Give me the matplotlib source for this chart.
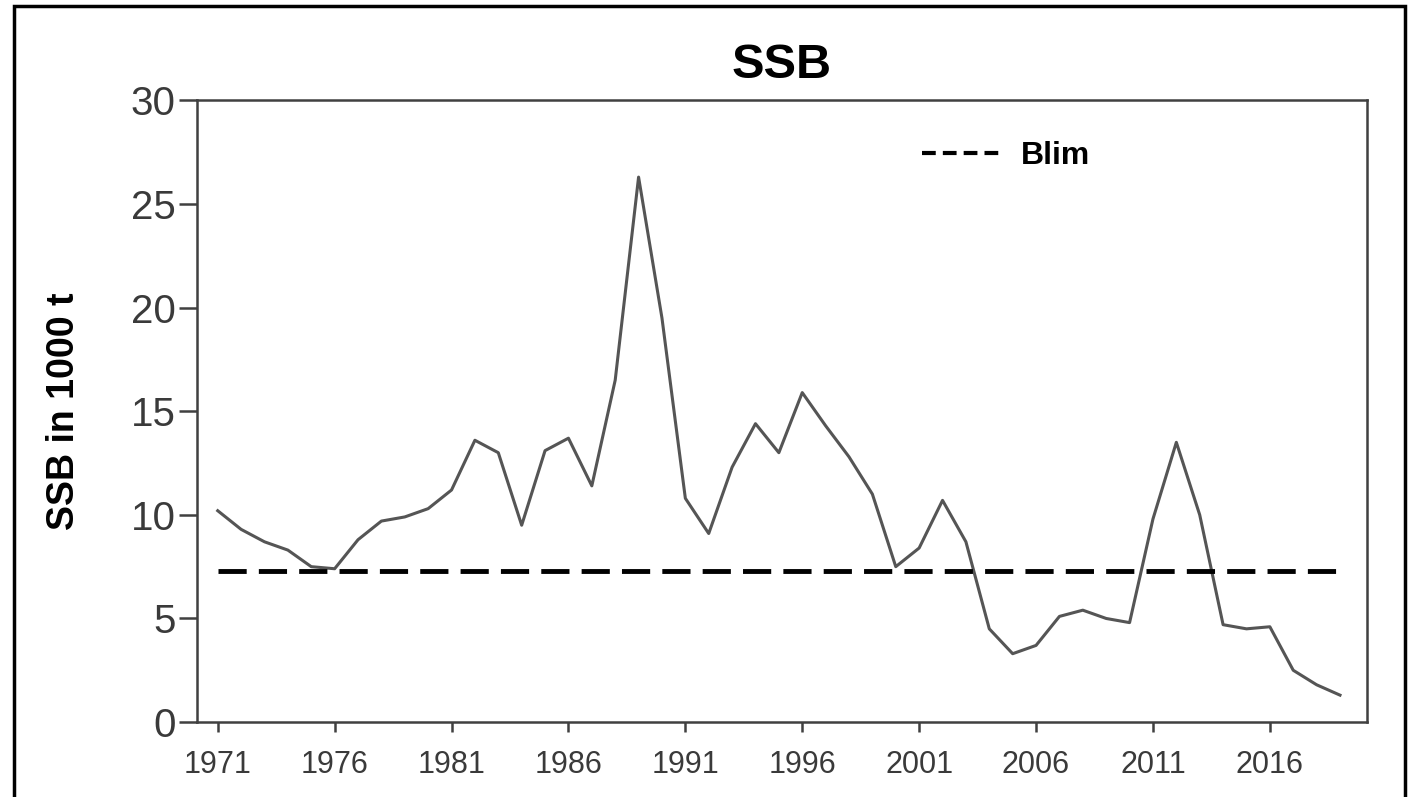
import matplotlib.pyplot as plt
from matplotlib.lines import Line2D
from matplotlib.patches import Rectangle

years = list(range(1971, 2020))
ssb = [10.2, 9.3, 8.7, 8.3, 7.5, 7.4, 8.8, 9.7, 9.9, 10.3,
       11.2, 13.6, 13.0, 9.5, 13.1, 13.7, 11.4, 16.5, 26.3, 19.5,
       10.8, 9.1, 12.3, 14.4, 13.0, 15.9, 14.3, 12.8, 11.0, 7.5,
       8.4, 10.7, 8.7, 4.5, 3.3, 3.7, 5.1, 5.4, 5.0, 4.8,
       9.8, 13.5, 10.0, 4.7, 4.5, 4.6, 2.5, 1.8, 1.3]
blim = 7.3
xticks = [1971, 1976, 1981, 1986, 1991, 1996, 2001, 2006, 2011, 2016]
yticks = [0, 5, 10, 15, 20, 25, 30]

plt.rcParams['font.family'] = ['Liberation Sans', 'DejaVu Sans']

fig = plt.figure(figsize=(14.15, 7.97), dpi=100)
ax = fig.add_axes([0.139, 0.094, 0.827, 0.780])

ax.plot(years, ssb, color='#555555', lw=2.2)
ax.plot([years[0], years[-1]], [blim, blim], color='black', lw=3.5,
        dashes=(5.8, 2.5))

ax.set_xlim(1970.1, 2020.15)
ax.set_ylim(0, 30)
ax.set_xticks(xticks)
ax.set_yticks(yticks)
ax.tick_params(axis='y', length=13, width=1.8, color='#404040',
               labelsize=29, labelcolor='#3a3a3a', pad=2)
ax.tick_params(axis='x', length=7, width=1.8, color='#404040',
               labelsize=22, labelcolor='#3a3a3a', pad=13)
for s in ax.spines.values():
    s.set_color('#404040')
    s.set_linewidth(1.8)

ax.set_title('SSB', fontsize=35, fontweight='bold', pad=16)
ax.set_ylabel('SSB in 1000 t', fontsize=27, fontweight='bold', labelpad=35)

# legend handle drawn with shorter dashes, like the original
h = Line2D([], [], color='black', lw=3, dashes=(3.3, 1.7))
ax.legend([h], ['Blim'], loc='center left', bbox_to_anchor=(0.62, 0.91),
          frameon=False, prop={'weight': 'bold', 'size': 23},
          handlelength=2.6, handletextpad=0.5, borderpad=0, borderaxespad=0)

fig.patches.append(Rectangle((0.0099, -0.05), 0.983, 1.043, transform=fig.transFigure,
                             fill=False, edgecolor='black', lw=2.5))

fig.savefig('out.png', dpi=100)
